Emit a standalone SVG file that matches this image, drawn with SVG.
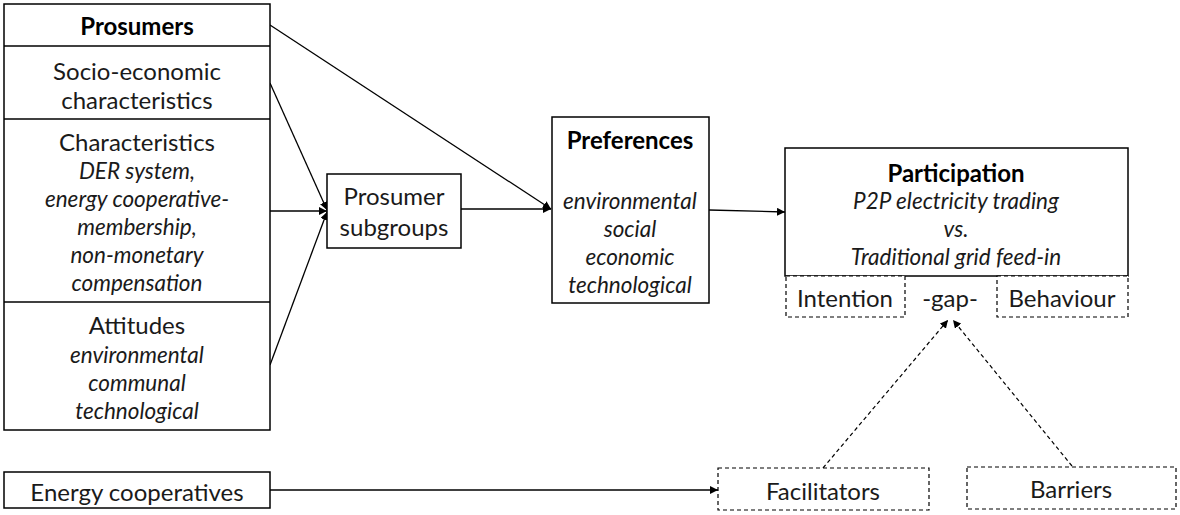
<svg xmlns="http://www.w3.org/2000/svg" width="1180" height="515" viewBox="0 0 1180 515">
<style>
  .box { fill: #fff; stroke: #000; stroke-width: 1.5; }
  .dbox { fill: #fff; stroke: #000; stroke-width: 1.2; stroke-dasharray: 4 3; }
  .div { stroke: #000; stroke-width: 1.5; }
  text { font-family: Lato, "Liberation Sans", sans-serif; font-size: 24px; fill: #1a1a1a; text-anchor: middle; dominant-baseline: central; }
  .b { font-weight: bold; fill: #000; }
  .i { font-style: italic; font-size: 22.5px; }
  .ln { fill: none; stroke: #000; stroke-width: 1.3; }
  .dl { fill: none; stroke: #000; stroke-width: 1.2; stroke-dasharray: 4 3; }
</style>
<defs>
  <marker id="ah" viewBox="0 0 10 10" refX="10" refY="5" markerWidth="8" markerHeight="8" markerUnits="userSpaceOnUse" orient="auto">
    <path d="M0,0 L10,5 L0,10 z" fill="#000"/>
  </marker>
</defs>
<rect width="1180" height="515" fill="#fff"/>

<g id="connectors">
  <line class="ln" x1="270" y1="25" x2="551" y2="209" marker-end="url(#ah)"/>
  <line class="ln" x1="270" y1="83" x2="327" y2="210" marker-end="url(#ah)"/>
  <line class="ln" x1="270" y1="211" x2="327" y2="211" marker-end="url(#ah)"/>
  <line class="ln" x1="270" y1="365" x2="327" y2="212" marker-end="url(#ah)"/>
  <line class="ln" x1="461" y1="209" x2="551" y2="209" marker-end="url(#ah)"/>
  <line class="ln" x1="709" y1="210" x2="785" y2="212" marker-end="url(#ah)"/>
  <line class="ln" x1="270" y1="490" x2="718" y2="490" marker-end="url(#ah)"/>
  <line class="dl" x1="823" y1="468" x2="948" y2="320" marker-end="url(#ah)"/>
  <line class="dl" x1="1072" y1="466" x2="953" y2="320" marker-end="url(#ah)"/>
</g>

<g id="prosumers">
  <rect class="box" x="4" y="4" width="266" height="426"/>
  <line class="div" x1="4" y1="46" x2="270" y2="46"/>
  <line class="div" x1="4" y1="119" x2="270" y2="119"/>
  <line class="div" x1="4" y1="302" x2="270" y2="302"/>
  <text class="b" x="137" y="25">Prosumers</text>
  <text x="137" y="70">Socio-economic</text>
  <text x="137" y="99">characteristics</text>
  <text x="137" y="141">Characteristics</text>
  <text class="i" x="137" y="170">DER system,</text>
  <text class="i" x="137" y="198">energy cooperative-</text>
  <text class="i" x="137" y="226">membership,</text>
  <text class="i" x="137" y="254">non-monetary</text>
  <text class="i" x="137" y="282">compensation</text>
  <text x="137" y="324">Attitudes</text>
  <text class="i" x="137" y="354">environmental</text>
  <text class="i" x="137" y="382">communal</text>
  <text class="i" x="137" y="410">technological</text>
</g>

<g id="energy-cooperatives">
  <rect class="box" x="4" y="472" width="266" height="36"/>
  <text x="137" y="491">Energy cooperatives</text>
</g>

<g id="prosumer-subgroups">
  <rect class="box" x="327" y="174" width="134" height="74"/>
  <text x="394" y="195">Prosumer</text>
  <text x="394" y="226">subgroups</text>
</g>

<g id="preferences">
  <rect class="box" x="552" y="117" width="157" height="186"/>
  <text class="b" x="630" y="139">Preferences</text>
  <text class="i" x="630" y="200">environmental</text>
  <text class="i" x="630" y="228">social</text>
  <text class="i" x="630" y="256">economic</text>
  <text class="i" x="630" y="284">technological</text>
</g>

<g id="participation">
  <rect class="box" x="785" y="148" width="343" height="128"/>
  <text class="b" x="956" y="172">Participation</text>
  <text class="i" x="956" y="200">P2P electricity trading</text>
  <text class="i" x="956" y="228">vs.</text>
  <text class="i" x="956" y="256">Traditional grid feed-in</text>
</g>

<g id="intention">
  <rect class="dbox" x="786" y="276" width="119" height="41"/>
  <text x="845" y="297">Intention</text>
</g>

<g id="gap">
  <text x="950" y="297">-gap-</text>
</g>

<g id="behaviour">
  <rect class="dbox" x="997" y="276" width="131" height="41"/>
  <text x="1062" y="297">Behaviour</text>
</g>

<g id="facilitators">
  <rect class="dbox" x="718" y="468" width="211" height="42"/>
  <text x="823" y="490">Facilitators</text>
</g>

<g id="barriers">
  <rect class="dbox" x="967" y="467" width="209" height="42"/>
  <text x="1071" y="488">Barriers</text>
</g>
</svg>
